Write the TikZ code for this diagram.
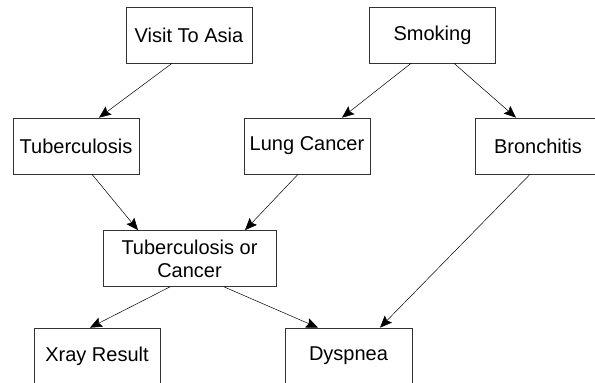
\documentclass[tikz,border=0pt]{standalone}
\usepackage{fontspec}
\setmainfont{Liberation Sans}
\usetikzlibrary{arrows.meta}

\begin{document}
\begin{tikzpicture}[x=1pt,y=-1pt,>={Stealth[length=12pt,width=10pt,inset=2pt]},line width=0.7pt]
  \tikzstyle{var}=[rectangle,draw=black!80,minimum width=126pt,minimum height=56pt,
  		   inner sep=0pt,font=\fontsize{20}{23}\selectfont]
  \tikzstyle{link}=[->,line width=0.5pt]
  \useasboundingbox (0,0) rectangle (595,383);
  % top row
  \node [var] (asia) at (189,35) {Visit To Asia};
  \node [var] (smoke) at (432.5,35) {Smoking};
  % middle row
  \node [var] (tub) at (76,146) {Tuberculosis};
  \node [var] (lung) at (307,146) {Lung Cancer};
  \node [var] (bronc) at (538,146) {Bronchitis};
  \node [var,minimum width=173pt,align=center] (either) at (189.5,258.5) {Tuberculosis or\\Cancer};
  % bottom row
  \node [var] (xray) at (97,356) {Xray Result};
  \node [var,minimum width=127pt] (dysp) at (348.5,356) {Dyspnea};
  \draw [link] ([xshift=-17pt]asia.south) -- ([xshift=23pt]tub.north);
  \draw [link] ([xshift=-21.5pt]smoke.south) -- ([xshift=35pt]lung.north);
  \draw [link] ([xshift=21.5pt]smoke.south) -- ([xshift=-22pt]bronc.north);
  \draw [link] ([xshift=16pt]tub.south) -- ([xshift=-51.5pt]either.north);
  \draw [link] ([xshift=-9pt]lung.south) -- ([xshift=55.5pt]either.north);
  \draw [link] ([xshift=-19.5pt]either.south) -- ([xshift=-7pt]xray.north);
  \draw [link] ([xshift=34.5pt]either.south) -- ([xshift=-30.5pt]dysp.north);
  \draw [link] ([xshift=-8pt]bronc.south) -- ([xshift=31.5pt]dysp.north);
\end{tikzpicture}
\end{document}
